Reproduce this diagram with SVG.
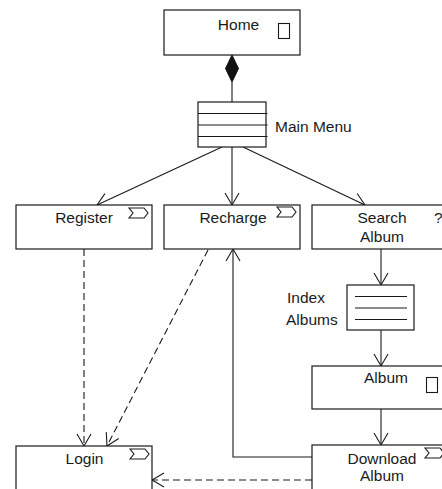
<svg xmlns="http://www.w3.org/2000/svg" width="442" height="489" viewBox="0 0 442 489">
  <defs>
    <style>
      .box { fill: #ffffff; stroke: #1a1a1a; stroke-width: 1.2; }
      .icon { fill: #ffffff; stroke: #1a1a1a; stroke-width: 1.1; }
      .edge { fill: none; stroke: #1a1a1a; stroke-width: 1.1; }
      .dash { stroke-dasharray: 7 4; }
      .lbl { font-family: "Liberation Sans", Arial, sans-serif; font-size: 15.5px; fill: #1a1a1a; }
      .mid { text-anchor: middle; }
    </style>
    <marker id="open" markerUnits="userSpaceOnUse" markerWidth="16" markerHeight="16" viewBox="-14 -8 16 16" refX="0" refY="0" orient="auto">
      <path d="M-12,-7 L0,0 L-12,7" fill="none" stroke="#1a1a1a" stroke-width="1.1"/>
    </marker>
    <!-- accept-event flag used on action nodes -->
    <path id="flag" d="M0,0 L15,0 L19,5 L15,10 L0,10 L4,5 Z"/>
  </defs>

  <!-- connectors -->
  <g id="connectors">
    <line class="edge" x1="232" y1="82" x2="232" y2="102"/>
    <path d="M232,55 L238.5,68.5 L232,82 L225.5,68.5 Z" fill="#111" stroke="#111" stroke-width="1"/>
    <line class="edge" x1="222" y1="147" x2="97" y2="205" marker-end="url(#open)"/>
    <line class="edge" x1="232" y1="147" x2="232" y2="205" marker-end="url(#open)"/>
    <line class="edge" x1="243" y1="147" x2="365" y2="205" marker-end="url(#open)"/>
    <line class="edge" x1="381" y1="249" x2="381" y2="285" marker-end="url(#open)"/>
    <line class="edge" x1="381" y1="330" x2="381" y2="366" marker-end="url(#open)"/>
    <line class="edge" x1="381" y1="409" x2="381" y2="445" marker-end="url(#open)"/>
    <polyline class="edge" points="312,457 233,457 233,249" marker-end="url(#open)"/>
    <line class="edge dash" x1="84" y1="249" x2="84" y2="446" marker-end="url(#open)"/>
    <line class="edge dash" x1="208" y1="250" x2="107" y2="446" marker-end="url(#open)"/>
    <line class="edge dash" x1="312" y1="480" x2="152" y2="480" marker-end="url(#open)"/>
  </g>

  <g id="home">
    <rect class="box" x="164" y="10" width="136" height="45"/>
    <text class="lbl mid" x="238.5" y="30">Home</text>
    <rect class="icon" x="278.5" y="23.5" width="11" height="15"/>
  </g>

  <g id="main-menu">
    <rect class="box" x="198" y="102" width="68" height="45"/>
    <line class="edge" x1="198" y1="113.5" x2="267.5" y2="113.5"/>
    <line class="edge" x1="198" y1="125" x2="267.5" y2="125"/>
    <line class="edge" x1="198" y1="136.5" x2="267.5" y2="136.5"/>
    <text class="lbl" x="275" y="132">Main Menu</text>
  </g>

  <g id="register">
    <rect class="box" x="16" y="205" width="136" height="44"/>
    <text class="lbl mid" x="84" y="223">Register</text>
    <use href="#flag" class="icon" x="129" y="208"/>
  </g>

  <g id="recharge">
    <rect class="box" x="164" y="205" width="136" height="44"/>
    <text class="lbl mid" x="233" y="223">Recharge</text>
    <use href="#flag" class="icon" x="277" y="207"/>
  </g>

  <g id="search-album">
    <rect class="box" x="312" y="205" width="136" height="44"/>
    <text class="lbl mid" x="382" y="223">Search</text>
    <text class="lbl mid" x="382" y="242">Album</text>
    <text class="lbl" x="434" y="223">?</text>
  </g>

  <g id="index-albums">
    <rect class="box" x="347" y="285" width="67" height="45"/>
    <line class="edge" x1="355" y1="296.5" x2="407" y2="296.5"/>
    <line class="edge" x1="355" y1="308" x2="407" y2="308"/>
    <line class="edge" x1="355" y1="319.5" x2="407" y2="319.5"/>
    <text class="lbl" x="287" y="303">Index</text>
    <text class="lbl" x="286" y="325">Albums</text>
  </g>

  <g id="album">
    <rect class="box" x="312" y="366" width="136" height="43"/>
    <text class="lbl mid" x="386" y="383">Album</text>
    <rect class="icon" x="426.5" y="377.5" width="11" height="15"/>
  </g>

  <g id="login">
    <rect class="box" x="16" y="446" width="136" height="60"/>
    <text class="lbl mid" x="84.5" y="464">Login</text>
    <use href="#flag" class="icon" x="130" y="449"/>
  </g>

  <g id="download-album">
    <rect class="box" x="312" y="445" width="136" height="60"/>
    <text class="lbl mid" x="382" y="464">Download</text>
    <text class="lbl mid" x="382" y="481">Album</text>
    <use href="#flag" class="icon" x="425" y="448"/>
  </g>
</svg>
